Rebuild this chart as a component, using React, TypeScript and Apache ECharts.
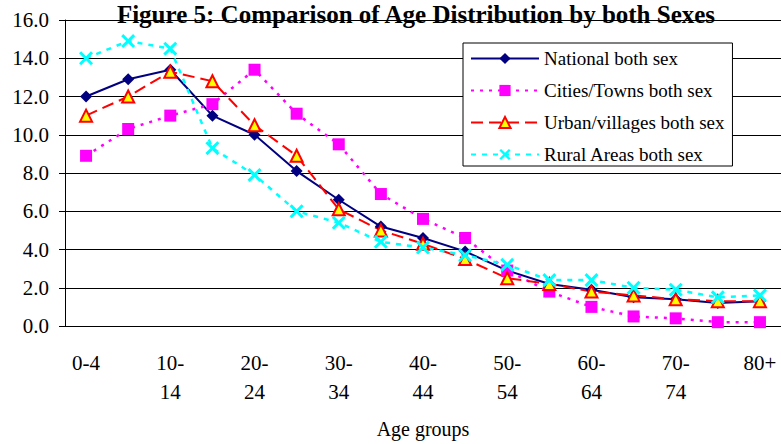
import React, { useEffect, useRef } from "react";
import * as echarts from "echarts";

const categories = [
  "0-4", "5-9", "10-14", "15-19", "20-24", "25-29", "30-34", "35-39", "40-44",
  "45-49", "50-54", "55-59", "60-64", "65-69", "70-74", "75-79", "80+",
];
const nationalBoth = [12.0, 12.9, 13.4, 11.0, 10.0, 8.1, 6.6, 5.2, 4.6, 3.9, 2.9, 2.2, 1.9, 1.5, 1.4, 1.2, 1.3];
const citiesBoth = [8.9, 10.3, 11.0, 11.6, 13.4, 11.1, 9.5, 6.9, 5.6, 4.6, 2.9, 1.8, 1.0, 0.5, 0.4, 0.2, 0.2];
const urbanBoth = [11.0, 12.0, 13.3, 12.8, 10.5, 8.9, 6.1, 5.0, 4.3, 3.5, 2.5, 2.2, 1.8, 1.6, 1.4, 1.3, 1.3];
const ruralBoth = [14.0, 14.9, 14.5, 9.3, 7.9, 6.0, 5.4, 4.4, 4.1, 3.7, 3.2, 2.4, 2.4, 2.0, 1.9, 1.5, 1.6];
const seriesNames = [
  "National both sex",
  "Cities/Towns both sex",
  "Urban/villages both sex",
  "Rural Areas both sex",
];
const titleText = "Figure 5: Comparison of Age Distribution by both Sexes";
const xAxisName = "Age groups";

const FONT = "Liberation Serif";
const X_SYMBOL =
  "path://M0,1.5 L1.5,0 L5,3.5 L8.5,0 L10,1.5 L6.5,5 L10,8.5 L8.5,10 L5,6.5 L1.5,10 L0,8.5 L3.5,5 Z";

export default function App() {
  const ref = useRef<HTMLDivElement>(null);
  useEffect(() => {
    if (!ref.current) return;
    const chart = echarts.init(ref.current, undefined, { renderer: "svg" });
    chart.setOption({
      animation: false,
      backgroundColor: "#ffffff",
      textStyle: { fontFamily: FONT },
      title: {
        text: titleText,
        left: 411,
        textAlign: "center",
        top: -3,
        textStyle: { fontFamily: FONT, fontSize: 25, fontWeight: "bold", color: "#000" },
      },
      legend: {
        orient: "vertical",
        left: 463,
        top: 43,
        padding: [6, 8, 2, 7],
        itemWidth: 68,
        itemHeight: 14,
        itemGap: 13,
        borderColor: "#000",
        borderWidth: 1,
        backgroundColor: "#fff",
        textStyle: { fontFamily: FONT, fontSize: 19, color: "#000" },
        data: seriesNames,
      },
      grid: { left: 65, top: 20, right: -7, bottom: 112, containLabel: false },
      xAxis: {
        type: "category",
        data: categories,
        boundaryGap: true,
        name: xAxisName,
        nameLocation: "middle",
        nameGap: 93,
        nameTextStyle: { fontFamily: FONT, fontSize: 20, color: "#000" },
        axisLine: { lineStyle: { color: "#000", width: 1 } },
        axisTick: { interval: 0, length: 6, lineStyle: { color: "#000" } },
        axisLabel: {
          interval: 1,
          margin: 22,
          fontFamily: FONT,
          fontSize: 21,
          lineHeight: 29,
          color: "#000",
          formatter: (v: string) => (v.length > 3 && v.includes("-") ? v.replace("-", "-\n") : v),
        },
      },
      yAxis: {
        type: "value",
        min: 0,
        max: 16,
        interval: 2,
        axisLine: { show: true, lineStyle: { color: "#000", width: 1 } },
        axisTick: { show: true, length: 6, lineStyle: { color: "#000" } },
        axisLabel: {
          margin: 16,
          fontFamily: FONT,
          fontSize: 21,
          color: "#000",
          formatter: (v: number) => v.toFixed(1),
        },
        splitLine: { show: true, lineStyle: { color: "#000", width: 1 } },
      },
      series: [
        {
          name: seriesNames[0],
          type: "line",
          data: nationalBoth,
          symbol: "diamond",
          symbolSize: 12,
          lineStyle: { color: "#000080", width: 2, type: "solid" },
          itemStyle: { color: "#000080" },
        },
        {
          name: seriesNames[1],
          type: "line",
          data: citiesBoth,
          symbol: "rect",
          symbolSize: 12,
          lineStyle: { color: "#FF00FF", width: 2.5, type: [3, 6] },
          itemStyle: { color: "#FF00FF" },
        },
        {
          name: seriesNames[2],
          type: "line",
          data: urbanBoth,
          symbol: "triangle",
          symbolSize: 12,
          lineStyle: { color: "#FF0000", width: 2, type: [12, 6] },
          itemStyle: { color: "#FFFF00", borderColor: "#FF0000", borderWidth: 2 },
        },
        {
          name: seriesNames[3],
          type: "line",
          data: ruralBoth,
          symbol: X_SYMBOL,
          symbolSize: 14,
          lineStyle: { color: "#00FFFF", width: 2.5, type: [5, 6] },
          itemStyle: { color: "#00FFFF" },
        },
      ],
    });
    return () => chart.dispose();
  }, []);
  return <div ref={ref} style={{ width: 781, height: 444, position: "absolute", left: 0, top: 0 }} />;
}
